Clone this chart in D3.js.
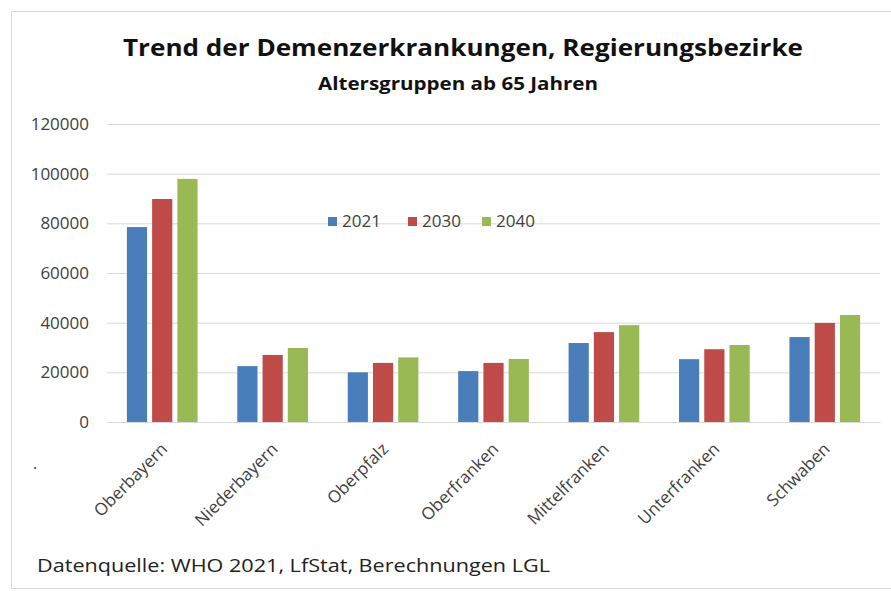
<!DOCTYPE html>
<html>
<head>
<meta charset="utf-8">
<script src="https://d3js.org/d3.v7.min.js"></script>
<style>
  body { margin: 0; background: #fff; }
  text { font-family: "Open Sans", "Noto Sans", sans-serif; }
</style>
</head>
<body>
<div id="chart"></div>
<script>
  // data
  var regions = ["Oberbayern", "Niederbayern", "Oberpfalz", "Oberfranken", "Mittelfranken", "Unterfranken", "Schwaben"];
  var years = ["2021", "2030", "2040"];
  var values2021 = [78500, 22500, 20000, 20500, 31800, 25300, 34200];
  var values2030 = [89800, 27000, 23800, 23800, 36200, 29300, 39900];
  var values2040 = [97900, 29800, 26000, 25400, 39000, 31000, 43100];
  var yTicks = [0, 20000, 40000, 60000, 80000, 100000, 120000];
  var colors = ["#4a7ebb", "#be4b48", "#98b954"];

  var width = 891, height = 591;
  var margin = {left: 107, right: 11, top: 124, bottom: 169};

  var svg = d3.select("#chart").append("svg")
      .attr("width", width)
      .attr("height", height);

  // light frame around the chart
  svg.append("rect")
      .attr("x", 11.5).attr("y", 11.5)
      .attr("width", width + 20).attr("height", height - 14)
      .attr("fill", "none")
      .attr("stroke", "#d9d9d9");

  var series = [values2021, values2030, values2040];
  var rows = regions.map(function(r, i) {
    return {region: r, vals: series.map(function(s) { return s[i]; })};
  });

  var x = d3.scaleBand()
      .domain(regions)
      .range([margin.left, width - margin.right])
      .paddingInner(0.36)
      .paddingOuter(0.18);

  var x1 = d3.scaleBand()
      .domain(years)
      .range([0, x.bandwidth()])
      .paddingInner(0.2);

  var y = d3.scaleLinear()
      .domain([0, 120000])
      .range([height - margin.bottom, margin.top]);

  // gridlines + y labels
  var yAxis = svg.append("g")
      .attr("transform", "translate(" + margin.left + ",0)")
      .call(d3.axisLeft(y).tickValues(yTicks).tickSize(-(width - margin.left - margin.right)).tickPadding(18).tickFormat(d3.format("d")));
  yAxis.select(".domain").remove();
  yAxis.selectAll(".tick line").attr("stroke", "#d9d9d9");
  yAxis.selectAll(".tick text")
      .attr("fill", "#404040")
      .style("font-size", "17px");

  // bars
  var groups = svg.append("g").selectAll("g")
      .data(rows)
      .enter().append("g")
      .attr("transform", function(d) { return "translate(" + x(d.region) + ",0)"; });

  groups.selectAll("rect")
      .data(function(d) { return d.vals.map(function(v, i) { return {year: years[i], v: v, i: i}; }); })
      .enter().append("rect")
      .attr("x", function(d) { return x1(d.year); })
      .attr("y", function(d) { return y(d.v); })
      .attr("width", x1.bandwidth())
      .attr("height", function(d) { return y(0) - y(d.v); })
      .attr("fill", function(d) { return colors[d.i]; });

  // x axis
  var xAxis = svg.append("g")
      .attr("transform", "translate(0," + y(0) + ")")
      .call(d3.axisBottom(x).tickSize(0).tickPadding(0));
  xAxis.select(".domain").attr("stroke", "#d9d9d9");
  xAxis.selectAll(".tick text")
      .attr("text-anchor", "end")
      .attr("fill", "#404040")
      .style("font-size", "17px")
      .attr("transform", "translate(2,24) rotate(-45)")
      .attr("dy", "0.35em");

  // stray dot left of the labels
  svg.append("text")
      .attr("x", 33).attr("y", 469)
      .attr("fill", "#404040")
      .style("font-size", "16px")
      .text(".");

  // legend
  var legendX = [328, 408, 482];
  var legend = svg.append("g").selectAll("g")
      .data(years)
      .enter().append("g")
      .attr("transform", function(d, i) { return "translate(" + legendX[i] + ",221)"; });
  legend.append("rect")
      .attr("x", 0).attr("y", -4)
      .attr("width", 9).attr("height", 9)
      .attr("fill", function(d, i) { return colors[i]; });
  legend.append("text")
      .attr("x", 14).attr("dy", "0.35em")
      .attr("fill", "#404040")
      .style("font-size", "17px")
      .text(function(d) { return d; });

  // titles
  svg.append("text")
      .attr("x", 463).attr("y", 56)
      .attr("text-anchor", "middle")
      .attr("fill", "#111")
      .style("font-size", "24px")
      .style("font-weight", "bold")
      .attr("textLength", 680)
      .attr("lengthAdjust", "spacingAndGlyphs")
      .text("Trend der Demenzerkrankungen, Regierungsbezirke");

  svg.append("text")
      .attr("x", 458).attr("y", 90)
      .attr("text-anchor", "middle")
      .attr("fill", "#111")
      .style("font-size", "17px")
      .style("font-weight", "bold")
      .attr("textLength", 280)
      .attr("lengthAdjust", "spacingAndGlyphs")
      .text("Altersgruppen ab 65 Jahren");

  svg.append("text")
      .attr("x", 37).attr("y", 572)
      .attr("fill", "#222")
      .style("font-size", "19px")
      .attr("textLength", 513)
      .attr("lengthAdjust", "spacingAndGlyphs")
      .text("Datenquelle: WHO 2021, LfStat, Berechnungen LGL");
</script>
</body>
</html>
